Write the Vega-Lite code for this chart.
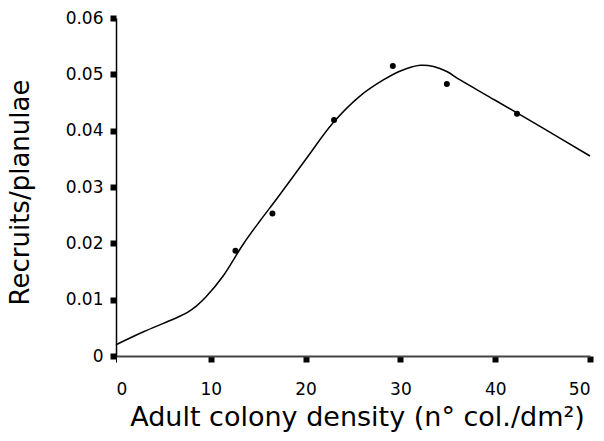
{
  "$schema": "https://vega.github.io/schema/vega-lite/v6.json",
  "autosize": "none",
  "padding": {"left": 116, "top": 18, "right": 14, "bottom": 85},
  "width": 474,
  "height": 338,
  "background": "white",
  "config": {
    "view": {"stroke": null},
    "font": "DejaVu Sans",
    "axis": {"grid": false, "labelFont": "DejaVu Sans", "titleFont": "DejaVu Sans", "labelColor": "black", "titleColor": "black", "titleFontWeight": "normal"}
  },
  "datasets": {
    "curve": [
      {"density": 0, "ratio": 0.0020},
      {"density": 2.9, "ratio": 0.0043},
      {"density": 5.0, "ratio": 0.0058},
      {"density": 6.4, "ratio": 0.0068},
      {"density": 7.5, "ratio": 0.0077},
      {"density": 8.5, "ratio": 0.0089},
      {"density": 9.5, "ratio": 0.0105},
      {"density": 11.3, "ratio": 0.0142},
      {"density": 13.4, "ratio": 0.0198},
      {"density": 15.2, "ratio": 0.0240},
      {"density": 17.0, "ratio": 0.0280},
      {"density": 20.1, "ratio": 0.0351},
      {"density": 22.9, "ratio": 0.0414},
      {"density": 25.7, "ratio": 0.0461},
      {"density": 28.2, "ratio": 0.0490},
      {"density": 30.0, "ratio": 0.0506},
      {"density": 32.1, "ratio": 0.0516},
      {"density": 33.5, "ratio": 0.0514},
      {"density": 34.9, "ratio": 0.0505},
      {"density": 36.3, "ratio": 0.0490},
      {"density": 40, "ratio": 0.0454},
      {"density": 45, "ratio": 0.0405},
      {"density": 50, "ratio": 0.0355}
    ],
    "obs": [
      {"density": 12.6, "ratio": 0.0187},
      {"density": 16.5, "ratio": 0.0253},
      {"density": 23.0, "ratio": 0.0419},
      {"density": 29.2, "ratio": 0.0515},
      {"density": 34.9, "ratio": 0.0483},
      {"density": 42.3, "ratio": 0.0430}
    ]
  },
  "layer": [
    {
      "data": {"name": "curve"},
      "mark": {"type": "line", "color": "black", "strokeWidth": 1.5, "interpolate": "catmull-rom"},
      "encoding": {
        "x": {
          "field": "density", "type": "quantitative",
          "scale": {"domain": [0, 50], "nice": false, "zero": false},
          "axis": {
            "title": "Adult colony density (n° col./dm²)",
            "values": [0, 10, 20, 30, 40, 50],
            "labelFontSize": 17,
            "titleFontSize": 27,
            "titleX": 241,
            "domainColor": "#444444",
            "domainWidth": 2,
            "tickColor": "black",
            "tickSize": 6,
            "tickWidth": {"condition": {"test": "datum.value == 0", "value": 1}, "value": 6},
            "labelPadding": 19,
            "titlePadding": 7
          }
        },
        "y": {
          "field": "ratio", "type": "quantitative",
          "scale": {"domain": [0, 0.06], "nice": false},
          "axis": {
            "title": "Recruits/planulae",
            "values": [0, 0.01, 0.02, 0.03, 0.04, 0.05, 0.06],
            "format": "~g",
            "labelFontSize": 17,
            "titleFontSize": 26,
            "titleY": 174,
            "domainColor": "black",
            "domainWidth": 1.5,
            "tickColor": "black",
            "tickSize": 6,
            "tickWidth": 6,
            "labelPadding": 7,
            "titlePadding": 32
          }
        }
      }
    },
    {
      "data": {"name": "obs"},
      "mark": {"type": "point", "filled": true, "color": "black", "size": 36, "opacity": 1},
      "encoding": {
        "x": {"field": "density", "type": "quantitative"},
        "y": {"field": "ratio", "type": "quantitative"}
      }
    }
  ]
}
